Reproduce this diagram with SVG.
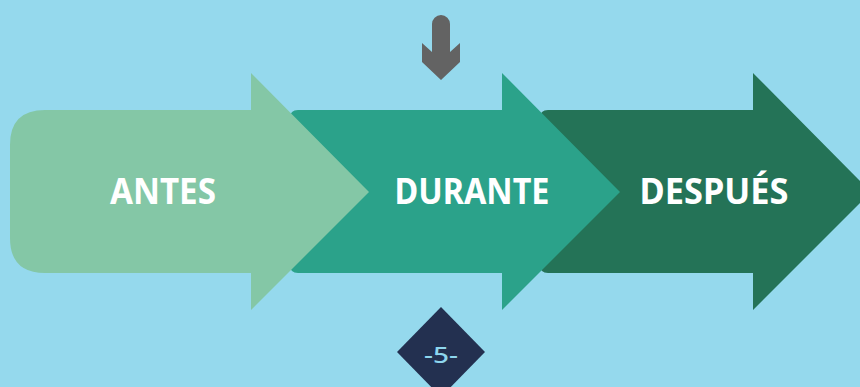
<svg xmlns="http://www.w3.org/2000/svg" width="860" height="387" viewBox="0 0 860 387">
<style>
.lbl{font-family:"Noto Sans","Open Sans",sans-serif;font-weight:bold;font-size:35px;fill:#ffffff;text-anchor:middle}
.num{font-family:"Noto Sans","Open Sans",sans-serif;font-weight:500;font-size:22px;fill:#8ED6EE;text-anchor:middle}
</style>
<rect width="860" height="387" fill="#95D9ED"/>
<g id="despues">
<path d="M548,110 H753 V73 L871,192 L753,310 V273 H548 Q540,273 540,265 V118 Q540,110 548,110 Z" fill="#247357"/>
<text class="lbl" x="714" y="204" textLength="149" lengthAdjust="spacingAndGlyphs">DESPUÉS</text>
</g>
<g id="durante">
<path d="M298,110 H502 V73 L620,192 L502,310 V273 H298 Q290,273 290,265 V118 Q290,110 298,110 Z" fill="#2BA28A"/>
<text class="lbl" x="472" y="204" textLength="155" lengthAdjust="spacingAndGlyphs">DURANTE</text>
</g>
<g id="antes">
<path d="M45,110 H251 V73 L369,192 L251,310 V273 H45 Q10,273 10,238 V145 Q10,110 45,110 Z" fill="#84C7A6"/>
<text class="lbl" x="163" y="204" textLength="106" lengthAdjust="spacingAndGlyphs">ANTES</text>
</g>
<g id="down-arrow">
<path d="M432,24 A9,9 0 0 1 450,24 V52 L460,43 V62 L441,80 L422,62 V43 L432,52 Z" fill="#636363"/>
</g>
<g id="page">
<path d="M441,307 L485,352 L441,397 L397,352 Z" fill="#233050"/>
<text class="num" x="441" y="363" textLength="34" lengthAdjust="spacingAndGlyphs">-5-</text>
</g>
</svg>
